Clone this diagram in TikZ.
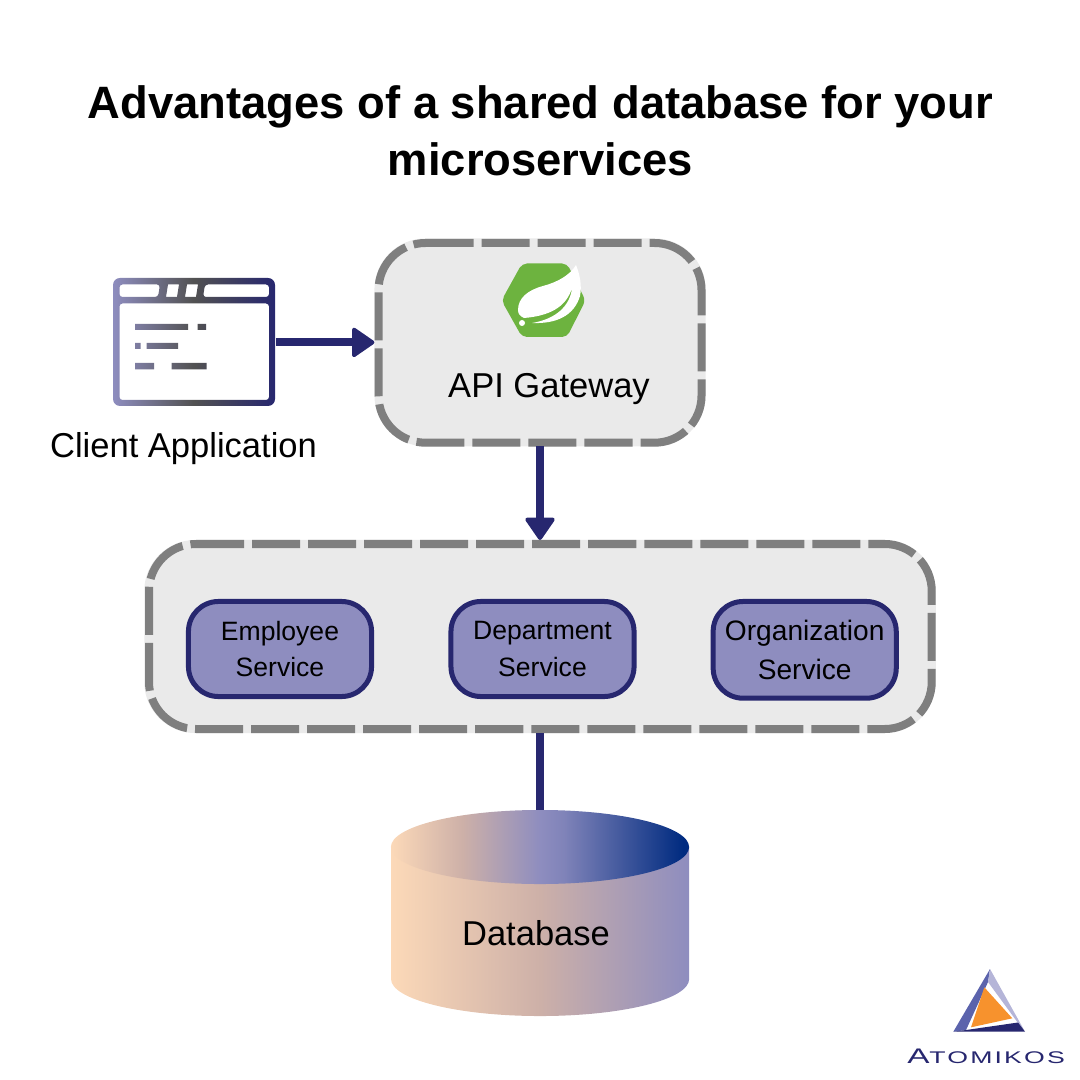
\documentclass[tikz,border=0pt]{standalone}
\usepackage{fontspec}
\setmainfont{Liberation Sans}
\newfontfamily\logofont{Liberation Sans}[LetterSpace=8]
\usetikzlibrary{arrows.meta}
\definecolor{navy}{HTML}{27276F}
\definecolor{lilac}{HTML}{8E8DBF}
\definecolor{dashgrey}{HTML}{7F7F7F}
\definecolor{boxgrey}{HTML}{EAEAEA}
\definecolor{peach}{HTML}{FCD9B8}
\definecolor{tan}{HTML}{CDB0A8}
\definecolor{deepblue}{HTML}{002B80}
\definecolor{springgreen}{HTML}{6DB33F}
\definecolor{logoorange}{HTML}{F7922D}
\definecolor{logoblue}{HTML}{5B63AC}
\definecolor{logolight}{HTML}{B5B5D8}
\pgfdeclarehorizontalshading{dblid}{100bp}{color(0bp)=(peach); color(25bp)=(peach); color(37bp)=(tan); color(50bp)=(lilac); color(54bp)=(lilac!90!deepblue); color(74bp)=(deepblue); color(100bp)=(deepblue)}
\tikzset{
  groupbox/.style={fill=boxgrey,rounded corners=0.51cm,inner sep=0pt,outer sep=0pt},
  groupedge/.style={draw=dashgrey,line width=0.08cm,rounded corners=0.47cm,
    dash pattern=on 0.48cm off 0.08cm},
  servicebox/.style={draw=navy,fill=lilac,line width=0.05cm,rounded corners=0.3cm,
    minimum width=1.83cm,minimum height=0.95cm,align=center,inner sep=0pt,
    font=\fontsize{7.55}{10.25}\selectfont},
  label/.style={anchor=base,inner sep=0pt,font=\fontsize{9.82}{12}\selectfont},
  titleline/.style={anchor=base,inner sep=0pt,font=\fontsize{12.9}{16}\bfseries\selectfont},
  flow/.style={draw=navy,line width=0.08cm},
  flowtip/.style={flow,-{Triangle[length=0.24cm,width=0.32cm,line width=0.04cm,round]}},
}
\begin{document}
\begin{tikzpicture}[x=0.01cm,y=-0.01cm]
\useasboundingbox (0,0) rectangle (1080,1080);
% title
\node[titleline] (titleA) at (540.5,119) {Advantages of a shared database for your};
\node[titleline] (titleB) at (540.5,176) {microservices};
% boxes
\node[groupbox,minimum width=3.31cm,minimum height=2.077cm] (gateway) at (540,342.4) {};
\node[groupbox,minimum width=7.91cm,minimum height=1.93cm] (services) at (540,636.5) {};
\foreach \xa/\ya/\xb/\yb in {378.5/243/701.5/442.7,149/544/931.7/729}
  \draw[groupedge] (\xa+47,\ya) -- (\xb,\ya) -- (\xb,\yb) -- (\xa,\yb) -- (\xa,\ya) -- (\xa+47,\ya);
\node[servicebox] (employee) at (280,649) {Employee\\Service};
\node[servicebox] (department) at (542.5,649) {Department\\Service};
\node[servicebox,minimum height=0.967cm,font=\fontsize{8}{11.1}\selectfont] (organization) at (804.7,649.85) {Organization\\Service};
\node[label] (gatewaytext) at (549,398) {API Gateway};
% client window, one gradient behind all the strokes
\node[minimum width=1.62cm,minimum height=1.28cm,inner sep=0pt] (client) at (194,342.4) {};
\shade[even odd rule,left color=lilac,right color=navy,middle color=black!68]
  [rounded corners=0.07cm] (113,278) rectangle (275,406)
  [rounded corners=0.03cm] (119.5,303.5) rectangle (269,400)
  (119.5,284.5) -- (160,284.5) -- (158,297) -- (119.5,297) -- cycle
  [sharp corners] (168,284.5) -- (179,284.5) -- (177,297) -- (166,297) -- cycle
  (187,284.5) -- (198,284.5) -- (196,297) -- (185,297) -- cycle
  [rounded corners=0.03cm] (205,284.5) -- (269,284.5) -- (269,297) -- (203,297) -- cycle
  [sharp corners] (135,324) rectangle (188,330) (197.5,324) rectangle (206,330)
  (135,343) rectangle (140.5,349) (146.5,343) rectangle (178,349)
  (135,363) rectangle (154,369.5) (171.5,363) rectangle (206.5,369.5);
\node[label] (clienttext) at (183.5,458) {Client Application};
% spring logo
\fill[springgreen,rounded corners=0.05cm] (501.5,300.5) -- (522,263.5) -- (567,263.5) -- (585.5,300.5) -- (567,337) -- (522,337) -- cycle;
\fill[white] (576,265) .. controls (570,275) and (558,282) .. (543,286)
  .. controls (528,290) and (518,298) .. (518,310)
  .. controls (518,314) and (520,316) .. (524,318)
  .. controls (548,316) and (566,308) .. (572,288)
  .. controls (570,306) and (556,319) .. (532,323)
  .. controls (556,324) and (574,316) .. (580,296)
  .. controls (582,286) and (580,275) .. (576,265) -- cycle;
\fill[white] (522,323) circle (0.03cm);
% connectors
\draw[flowtip] (client) -- (gateway);
\draw[flowtip] (gateway) -- (services);
% database
\shade[left color=peach,right color=lilac,middle color=tan] (391,847) -- (391,979) arc[start angle=180,end angle=360,x radius=1.49cm,y radius=0.37cm] -- (689,847) -- cycle;
\shade[shading=dblid] (540,847) ellipse [x radius=1.49cm,y radius=0.37cm];
\coordinate (dbtop) at (540,810);
\draw[flow] (services) -- (dbtop);
\node[label] (dbtext) at (536,945) {Database};
% atomikos mark
\fill[logoblue] (990,969) -- (953.3,1031.7) -- (966,1030) -- (988,982) -- cycle;
\fill[logolight] (990,969) -- (1025,1031.7) -- (1018,1023) -- (988,982) -- cycle;
\fill[navy] (953.3,1031.7) -- (1025,1031.7) -- (1018,1022.5) -- (966,1030) -- cycle;
\fill[logoorange] (984.3,987.3) -- (1012.3,1018.3) -- (971,1027.3) -- cycle;
\node[anchor=base,inner sep=0pt,text=navy] (atomikos) at (986,1063.5) {\scalebox{1.58}[1]{\logofont\fontsize{4.8}{6}\selectfont{\fontsize{6}{6}\selectfont A}TOMIKOS}};
\end{tikzpicture}
\end{document}
